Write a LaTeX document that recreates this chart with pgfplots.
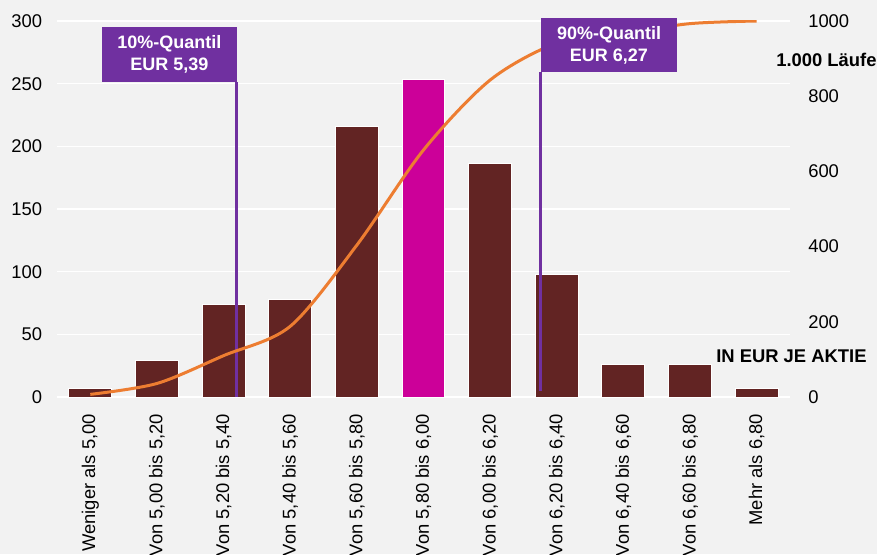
\documentclass[border=0pt]{standalone}
\usepackage{pgfplots}
\pgfplotsset{compat=1.18}
\usepackage{fontspec}
\setmainfont{Liberation Sans}

\definecolor{bg}{HTML}{F2F2F2}
\definecolor{barred}{HTML}{622423}
\definecolor{hlbar}{HTML}{CC0099}
\definecolor{quant}{HTML}{7030A0}
\definecolor{cum}{HTML}{ED7D31}

\newcommand{\lbl}{\fontsize{13.8}{16}\selectfont}

\begin{document}
\begin{tikzpicture}
  \path[fill=bg, use as bounding box] (0,0) rectangle (657.75pt,415.5pt);

  % Haeufigkeit je Preisklasse (linke Achse)
  \begin{axis}[
      at={(42.75pt,117.75pt)}, anchor=south west,
      scale only axis, width=549.75pt, height=282pt,
      xmin=-0.5, xmax=10.5, ymin=0, ymax=300,
      axis x line*=bottom, axis y line*=left,
      axis line style={draw=none},
      major tick length=0pt,
      ymajorgrids,
      grid style={white, line width=0.9pt},
      xtick={0,...,10},
      xticklabels={{Weniger als 5,00},{Von 5,00 bis 5,20},{Von 5,20 bis 5,40},
        {Von 5,40 bis 5,60},{Von 5,60 bis 5,80},{Von 5,80 bis 6,00},
        {Von 6,00 bis 6,20},{Von 6,20 bis 6,40},{Von 6,40 bis 6,60},
        {Von 6,60 bis 6,80},{Mehr als 6,80}},
      ytick={0,50,...,300},
      tick label style={font=\lbl},
      /pgf/number format/assume math mode=true,
      xticklabel style={rotate=90, anchor=east, inner sep=0pt},
      xticklabel shift=12.5pt,
      yticklabel style={anchor=east, inner sep=0pt},
      yticklabel shift=11pt,
    ]
    \addplot[ybar, bar shift=0pt, bar width=0.645, fill=barred, draw=white, line width=0.75pt]
      coordinates {(0,7) (1,29) (2,74) (3,78) (4,216) (6,186) (7,98) (8,26) (9,26) (10,7)};
    \addplot[ybar, bar shift=0pt, bar width=0.645, fill=hlbar, draw=white, line width=0.75pt]
      coordinates {(5,253)};

    % Quantile
    \addplot[quant, line width=2.25pt] coordinates {(2.20,0) (2.20,251)};
    \addplot[quant, line width=2.25pt] coordinates {(6.76,4.8) (6.76,259)};
  \end{axis}

  % kumulierte Laeufe (rechte Achse)
  \begin{axis}[
      at={(42.75pt,117.75pt)}, anchor=south west,
      scale only axis, width=549.75pt, height=282pt,
      xmin=-0.5, xmax=10.5, ymin=0, ymax=1000,
      hide x axis,
      axis y line*=right,
      axis line style={draw=none},
      major tick length=0pt,
      ytick={0,200,...,1000},
      tick label style={font=\lbl},
      /pgf/number format/assume math mode=true,
      /pgf/number format/1000 sep={},
      yticklabel style={anchor=west, inner sep=0pt},
      yticklabel shift=13.5pt,
    ]
    \addplot[cum, line width=2.25pt, smooth, tension=0.5] coordinates {
      (0,7) (1,36) (2,110) (3,188) (4,404) (5,657)
      (6,843) (7,941) (8,967) (9,993) (10,1000)};
  \end{axis}

  \node[fill=quant, text=white, font=\bfseries\fontsize{13.5}{16.5}\selectfont,
        align=center, minimum width=101pt, minimum height=41pt, inner sep=0pt]
        at (127.1pt,374.6pt) {10\%-Quantil\\EUR 5,39};
  \node[fill=quant, text=white, font=\bfseries\fontsize{13.5}{16.5}\selectfont,
        align=center, minimum width=102pt, minimum height=40.5pt, inner sep=0pt]
        at (456.75pt,381.75pt) {90\%-Quantil\\EUR 6,27};

  \node[anchor=west, inner sep=0pt, font=\bfseries\lbl] at (582pt,370.5pt) {1.000 Läufe};
  \node[anchor=west, inner sep=0pt, font=\bfseries\lbl] at (537pt,148.5pt) {IN EUR JE AKTIE};
\end{tikzpicture}
\end{document}
